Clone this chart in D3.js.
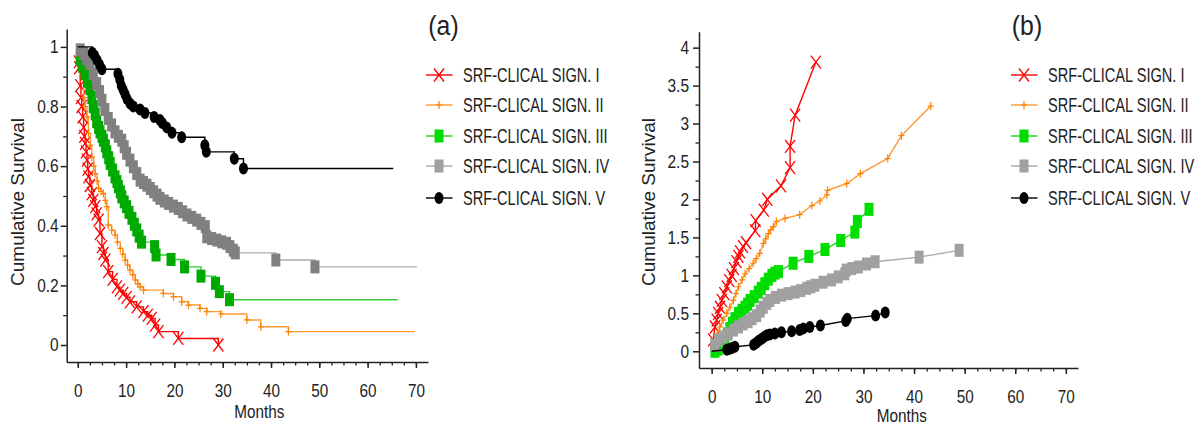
<!DOCTYPE html>
<html>
<head>
<meta charset="utf-8">
<script src="https://cdn.jsdelivr.net/npm/d3@7"></script>
<style>
body { margin: 0; background: #fff; }
svg { display: block; font-family: Arial, "Liberation Sans", sans-serif; }
</style>
</head>
<body>
<svg id="chart" width="1199" height="425"></svg>
<script>
// Gruppennamen (Legende)
var groupNames = ["SRF-CLICAL SIGN. I", "SRF-CLICAL SIGN. II", "SRF-CLICAL SIGN. III",
    "SRF-CLICAL SIGN. IV", "SRF-CLICAL SIGN. V"];

// (a) Kaplan-Meier: Monate und kumulatives Überleben
var aTimeI = [0, 0.2, 0.3, 0.5, 0.65, 0.8, 1.0, 1.2, 1.35, 1.5, 1.7, 1.9, 2.05, 2.2, 2.5, 2.9, 3.2, 3.6, 3.9, 4.3,
    4.6, 5.0, 5.3, 5.7, 6.3, 7.2, 8.1, 8.7, 9.4, 10.1, 10.8, 12.2, 13.6, 14.5, 15.3, 16.0, 16.7, 20.8, 29.1];
var aSurvI = [1, 0.95, 0.93, 0.87, 0.83, 0.80, 0.765, 0.73, 0.70, 0.676, 0.648, 0.62, 0.59, 0.564, 0.535, 0.508, 0.485, 0.464, 0.44, 0.419,
    0.374, 0.33, 0.307, 0.285, 0.246, 0.22, 0.195, 0.184, 0.173, 0.16, 0.145, 0.128, 0.112, 0.10, 0.089, 0.067, 0.045, 0.022, 0];

var aTimeII = [0, 0.2, 0.4, 0.8, 1.2, 1.5, 1.9, 2.2, 2.6, 2.9, 3.3, 3.6, 4.0, 4.3, 4.8, 5.3, 5.7, 6.0, 6.3, 7.0,
    7.7, 8.2, 8.8, 9.3, 9.8, 10.3, 10.8, 11.4, 11.9, 12.4, 12.9, 13.6, 17.7, 19.8, 21.5, 22.9, 25.3, 26.7, 29.6, 35.0,
    37.9, 43.6];
var aSurvII = [1, 0.96, 0.93, 0.9, 0.83, 0.80, 0.765, 0.71, 0.67, 0.63, 0.60, 0.575, 0.55, 0.525, 0.515, 0.508, 0.485, 0.464, 0.402, 0.385,
    0.369, 0.345, 0.324, 0.305, 0.285, 0.268, 0.251, 0.235, 0.218, 0.205, 0.195, 0.184, 0.173, 0.162, 0.145, 0.134, 0.123, 0.112, 0.104, 0.084,
    0.061, 0.045];

var aTimeIII = [0, 0.5, 1.0, 1.5, 2.0, 2.5, 2.9, 3.2, 3.6, 3.9, 4.3, 4.6, 5.0, 5.3, 5.7, 6.0, 6.4, 6.7, 7.2, 7.7,
    8.1, 8.4, 8.8, 9.1, 9.6, 10.1, 10.6, 11.2, 11.7, 12.2, 12.7, 13.2, 15.9, 16.2, 19.3, 22.1, 25.5, 28.5, 29.3, 31.4];
var aSurvIII = [1, 0.96, 0.935, 0.91, 0.885, 0.86, 0.83, 0.80, 0.775, 0.749, 0.73, 0.715, 0.70, 0.687, 0.668, 0.648, 0.628, 0.609, 0.587, 0.564,
    0.548, 0.531, 0.514, 0.497, 0.48, 0.464, 0.445, 0.425, 0.405, 0.386, 0.365, 0.345, 0.33, 0.302, 0.287, 0.262, 0.231, 0.207, 0.179, 0.152];

var aTimeIV = [0, 0.5, 1.2, 1.8, 2.5, 3.2, 3.9, 4.5, 5.0, 5.6, 6.3, 7.0, 7.7, 8.4, 9.1, 9.6, 10.1, 10.8, 11.5, 12.2,
    12.9, 13.6, 14.3, 15.0, 15.7, 16.4, 17.0, 17.9, 18.8, 19.8, 20.8, 21.7, 22.6, 23.6, 24.6, 25.5, 26.4, 26.7, 27.7, 28.8,
    29.8, 30.8, 31.5, 32.2, 32.6, 41.0, 49.1];
var aSurvIV = [1, 0.99, 0.978, 0.96, 0.944, 0.91, 0.877, 0.85, 0.821, 0.79, 0.76, 0.738, 0.715, 0.70, 0.687, 0.665, 0.643, 0.62, 0.598, 0.575,
    0.553, 0.545, 0.536, 0.525, 0.514, 0.503, 0.492, 0.483, 0.475, 0.466, 0.458, 0.447, 0.436, 0.428, 0.419, 0.408, 0.397, 0.363, 0.357, 0.352,
    0.346, 0.341, 0.33, 0.318, 0.309, 0.285, 0.262];

var aTimeV = [0, 3.0, 3.5, 4.0, 4.5, 5.0, 8.3, 8.7, 9.0, 9.4, 9.8, 10.2, 10.8, 11.5, 12.9, 13.9, 15.8, 17.0, 17.5, 18.4,
    19.5, 21.5, 26.3, 26.6, 32.4, 34.3];
var aSurvV = [1, 0.98, 0.97, 0.955, 0.94, 0.925, 0.91, 0.89, 0.87, 0.855, 0.84, 0.825, 0.81, 0.80, 0.79, 0.778, 0.765, 0.755, 0.745, 0.73,
    0.712, 0.697, 0.67, 0.648, 0.625, 0.592];

// Ende der Nachbeobachtung (waagrechte Linie ohne Marker)
var aTailEnd = [29.1, 69.8, 66.2, 70.2, 65.3];

// (b) kumulatives Risiko
var bTimeI = [0, 0.3, 0.65, 1.0, 1.3, 1.65, 2.0, 2.5, 3.0, 3.5, 3.95, 4.4, 4.9, 5.3, 5.6, 6.2, 6.8, 8.6, 8.7, 10.3,
    11.0, 13.7, 15.5, 15.5, 16.5, 20.6];
var bHazI = [0.03, 0.15, 0.32, 0.41, 0.5, 0.58, 0.67, 0.76, 0.85, 0.93, 1.0, 1.09, 1.18, 1.25, 1.31, 1.38, 1.43, 1.59, 1.72, 1.86,
    2.0, 2.18, 2.42, 2.70, 3.11, 3.81];

var bTimeII = [0, 0.3, 0.65, 1.1, 1.6, 2.3, 3.0, 3.6, 4.3, 4.8, 5.3, 6.0, 6.6, 7.4, 8.2, 8.8, 9.5, 10.2, 10.7, 11.2,
    11.7, 12.2, 12.8, 14.5, 17.4, 19.8, 21.4, 22.8, 22.9, 26.7, 29.4, 34.8, 37.5, 43.3];
var bHazII = [0, 0.07, 0.145, 0.23, 0.32, 0.41, 0.5, 0.58, 0.67, 0.76, 0.85, 0.94, 1.02, 1.09, 1.16, 1.22, 1.29, 1.42, 1.48, 1.55,
    1.60, 1.64, 1.71, 1.75, 1.80, 1.92, 1.98, 2.06, 2.12, 2.21, 2.34, 2.54, 2.84, 3.23];

var bTimeIII = [0, 0.65, 1.3, 2.0, 2.6, 3.1, 3.6, 4.1, 4.6, 5.3, 6.0, 6.6, 7.1, 7.6, 8.4, 9.2, 9.8, 10.5, 11.2, 11.9,
    12.5, 13.2, 16.1, 19.2, 22.4, 25.5, 28.3, 28.8, 31.1];
var bHazIII = [0, 0.0, 0.03, 0.08, 0.145, 0.23, 0.30, 0.37, 0.43, 0.50, 0.54, 0.58, 0.62, 0.67, 0.72, 0.78, 0.83, 0.89, 0.95, 1.0,
    1.03, 1.05, 1.16, 1.25, 1.34, 1.46, 1.57, 1.71, 1.87];

var bTimeIV = [0, 0.6, 1.3, 2.3, 3.3, 4.3, 5.3, 6.2, 7.2, 8.0, 8.9, 9.6, 10.2, 10.9, 11.5, 12.6, 13.8, 15.1, 16.5, 17.6,
    18.8, 19.6, 20.4, 22.0, 23.7, 25.0, 26.3, 26.6, 27.7, 29.0, 30.6, 32.3, 41.0, 48.9];
var bHazIV = [0.03, 0.08, 0.145, 0.19, 0.23, 0.28, 0.32, 0.36, 0.39, 0.43, 0.47, 0.53, 0.58, 0.63, 0.67, 0.71, 0.74, 0.76, 0.78, 0.80,
    0.83, 0.85, 0.87, 0.91, 0.94, 0.98, 1.02, 1.07, 1.09, 1.11, 1.15, 1.18, 1.24, 1.33];

var bTimeV = [0, 3.0, 3.5, 4.0, 4.6, 8.3, 8.8, 9.3, 9.9, 10.4, 10.9, 11.5, 12.5, 13.8, 15.8, 17.4, 18.1, 19.4, 21.5, 26.5,
    26.8, 32.4, 34.3];
var bHazV = [0, 0.02, 0.03, 0.045, 0.06, 0.085, 0.11, 0.14, 0.165, 0.19, 0.21, 0.22, 0.235, 0.25, 0.265, 0.28, 0.30, 0.32, 0.34, 0.40,
    0.43, 0.47, 0.51];

// Achsenbeschriftung
var xTicks = [0, 10, 20, 30, 40, 50, 60, 70];
var aYTicks = [0, 0.2, 0.4, 0.6, 0.8, 1];
var bYTicks = [0, 0.5, 1, 1.5, 2, 2.5, 3, 3.5, 4];

// Aussehen der Gruppen
var looks = [
    { shape: "x", line: "#ff0000", markA: "#ff0000", markB: "#ff0000", key: "#ff0000", keyLine: "#ff0000" },
    { shape: "plus", line: "#ff9933", markA: "#ff8000", markB: "#ff8000", key: "#ff8000", keyLine: "#ff9933" },
    { shape: "square", line: "#33cc33", markA: "#00aa00", markB: "#00dd00", key: "#00dd00", keyLine: "#22cc22" },
    { shape: "square", line: "#aaaaaa", markA: "#808080", markB: "#a0a0a0", key: "#a0a0a0", keyLine: "#aaaaaa" },
    { shape: "ellipse", line: "#000000", markA: "#000000", markB: "#000000", key: "#000000", keyLine: "#000000" }
];

var svg = d3.select("#chart");

function pairs(ts, vs) {
    return ts.map(function(t, i) { return [t, vs[i]]; });
}

//Marker zeichnen
function addMarker(g, shape, color, cx, cy) {
    if (shape == "x") {
        g.append("path")
            .attr("d", "M" + (cx - 5) + "," + (cy - 6.5) + "L" + (cx + 5) + "," + (cy + 6.5) +
                "M" + (cx - 5) + "," + (cy + 6.5) + "L" + (cx + 5) + "," + (cy - 6.5))
            .attr("stroke", color).attr("stroke-width", 1.3).attr("fill", "none");
    } else if (shape == "plus") {
        g.append("path")
            .attr("d", "M" + (cx - 3) + "," + cy + "L" + (cx + 3) + "," + cy +
                "M" + cx + "," + (cy - 4) + "L" + cx + "," + (cy + 4))
            .attr("stroke", color).attr("stroke-width", 1.2).attr("fill", "none");
    } else if (shape == "square") {
        g.append("rect")
            .attr("x", cx - 4.5).attr("y", cy - 6.5)
            .attr("width", 9).attr("height", 13)
            .attr("fill", color);
    } else {
        g.append("ellipse")
            .attr("cx", cx).attr("cy", cy)
            .attr("rx", 4.5).attr("ry", 6)
            .attr("fill", color);
    }
}

function label(g, txt, x, y, size, sx, anchor) {
    return g.append("text")
        .attr("transform", "translate(" + x + "," + y + ") scale(" + sx + ",1)")
        .attr("font-size", size)
        .attr("text-anchor", anchor || "start")
        .attr("fill", "#222")
        .text(txt);
}

function drawPanel(p) {
    var x = d3.scaleLinear().domain(p.xDomain).range(p.xRange);
    var y = d3.scaleLinear().domain(p.yDomain).range(p.yRange);
    var g = svg.append("g");

    //Nebenstriche
    g.append("g")
        .attr("transform", "translate(0," + p.yRange[0] + ")")
        .call(d3.axisBottom(x).tickValues(d3.range(0, 71, 2.5)).tickSize(3.5).tickFormat(""))
        .call(function(s) { s.select(".domain").remove(); })
        .selectAll("line").attr("stroke", "#222").attr("stroke-width", 1.3);
    g.append("g")
        .attr("transform", "translate(" + p.xRange[0] + ",0)")
        .call(d3.axisLeft(y).tickValues(p.yMinor).tickSize(3.5).tickFormat(""))
        .call(function(s) { s.select(".domain").remove(); })
        .selectAll("line").attr("stroke", "#222").attr("stroke-width", 1.3);

    //x-Achse
    var xAxis = g.append("g")
        .attr("transform", "translate(0," + p.yRange[0] + ")")
        .call(d3.axisBottom(x).tickValues(xTicks).tickSize(6).tickSizeOuter(0).tickPadding(16.5));
    //y-Achse
    var yAxis = g.append("g")
        .attr("transform", "translate(" + p.xRange[0] + ",0)")
        .call(d3.axisLeft(y).tickValues(p.yTicks).tickSize(6).tickSizeOuter(0).tickPadding(p.yPad)
            .tickFormat(function(d) { return String(d); }));

    [xAxis, yAxis].forEach(function(a) {
        a.attr("font-size", 18).attr("font-family", "Arial, 'Liberation Sans', sans-serif");
        a.selectAll("path, line").attr("stroke", "#222").attr("stroke-width", 1.5);
        a.selectAll("text").attr("fill", "#222");
    });
    xAxis.selectAll("text").attr("transform", "scale(0.85,1)");
    yAxis.selectAll("text")
        .attr("transform", "scale(0.86,1)")
        .attr("x", -(6 + p.yPad) / 0.86);

    //Kurven
    var line = d3.line()
        .x(function(d) { return x(d[0]); })
        .y(function(d) { return y(d[1]); });
    if (p.step) line.curve(d3.curveStepAfter);

    p.series.forEach(function(pts, i) {
        var lk = looks[i];
        var path = pts.slice();
        if (p.tails) path.push([p.tails[i], pts[pts.length - 1][1]]);
        g.append("path")
            .attr("d", line(path))
            .attr("fill", "none")
            .attr("stroke", lk.line)
            .attr("stroke-width", 1.4);
        var mg = g.append("g");
        pts.slice(1).forEach(function(d) {
            addMarker(mg, lk.shape, p.step ? lk.markA : lk.markB, x(d[0]), y(d[1]));
        });
    });

    //Beschriftungen
    g.append("text")
        .attr("transform", "translate(" + p.yLabelX + ",202) rotate(-90)")
        .attr("font-size", 19)
        .attr("text-anchor", "middle")
        .attr("dominant-baseline", "central")
        .attr("fill", "#222")
        .text("Cumulative Survival");
    label(g, "Months", x(37.6), p.monthsY, 18, 0.85, "middle");
    label(g, p.tag, p.tagX, 35, 27, 0.92, "middle");

    //Legende
    var rows = [75, 105, 136, 166, 198];
    groupNames.forEach(function(name, i) {
        var lk = looks[i];
        g.append("line")
            .attr("x1", p.legendX).attr("x2", p.legendX + 26.5)
            .attr("y1", rows[i]).attr("y2", rows[i])
            .attr("stroke", lk.keyLine).attr("stroke-width", 1.4);
        addMarker(g, lk.shape, lk.key, p.legendX + 13, rows[i]);
        label(g, name, p.legendX + 37, rows[i] + 7, 20, 0.73);
    });
}

drawPanel({
    xDomain: [-2.3, 72.5], xRange: [66.7, 428],
    yDomain: [-0.057, 1.06], yRange: [362, 29],
    yTicks: aYTicks, yMinor: [0.1, 0.3, 0.5, 0.7, 0.9], yPad: 2,
    step: true, tails: aTailEnd,
    series: [pairs(aTimeI, aSurvI), pairs(aTimeII, aSurvII), pairs(aTimeIII, aSurvIII),
        pairs(aTimeIV, aSurvIV), pairs(aTimeV, aSurvV)],
    yLabelX: 17, monthsY: 418, tag: "(a)", tagX: 443.5, legendX: 426
});

drawPanel({
    xDomain: [-2.5, 72.4], xRange: [699, 1078],
    yDomain: [-0.22, 4.21], yRange: [368, 31.7],
    yTicks: bYTicks, yMinor: [0.25, 0.75, 1.25, 1.75, 2.25, 2.75, 3.25, 3.75], yPad: 4,
    step: false, tails: null,
    series: [pairs(bTimeI, bHazI), pairs(bTimeII, bHazII), pairs(bTimeIII, bHazIII),
        pairs(bTimeIV, bHazIV), pairs(bTimeV, bHazV)],
    yLabelX: 648, monthsY: 422, tag: "(b)", tagX: 1027, legendX: 1011
});
</script>
</body>
</html>
